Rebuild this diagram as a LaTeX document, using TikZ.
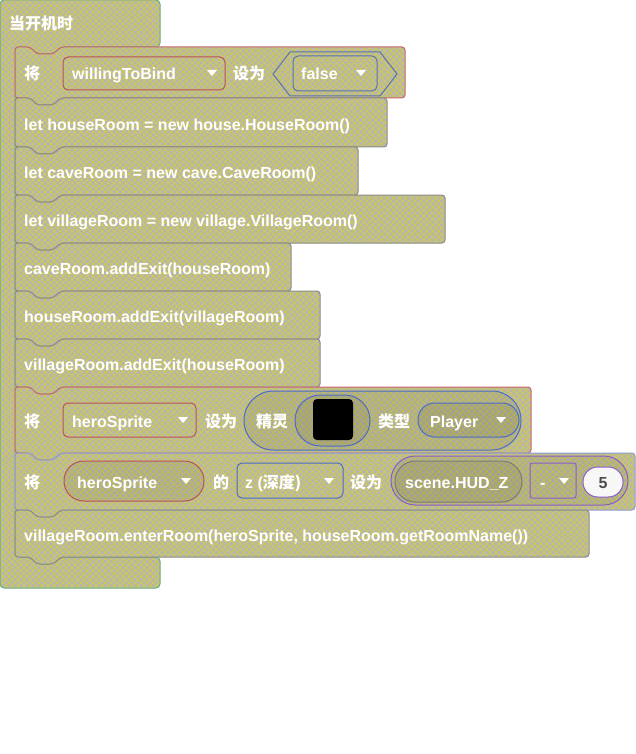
\documentclass[tikz,border=0pt]{standalone}
\usepackage{fontspec}
\setmainfont{Liberation Sans}
\newfontfamily\cjk{Noto Sans CJK SC}
\usetikzlibrary{patterns.meta}
\definecolor{bgray}{HTML}{B6B6B0}
\definecolor{hy}{HTML}{D4CE40}
\definecolor{greeno}{HTML}{6AAE78}
\definecolor{redo}{HTML}{C86470}
\definecolor{grayo}{HTML}{8A8A88}
\definecolor{blueo}{HTML}{8C9AD8}
\definecolor{redin}{HTML}{BC5058}
\definecolor{bluein}{HTML}{4A6CC4}
\definecolor{purpin}{HTML}{8A5CC8}
\definecolor{darkin}{HTML}{7A7A78}
\tikzset{
  blk/.style={fill=bgray,
    postaction={pattern={Lines[angle=45,distance=4.25pt,line width=0.7pt]},pattern color=hy},
    postaction={pattern={Lines[angle=-45,distance=4.25pt,line width=0.7pt]},pattern color=hy},
    postaction={draw=#1,line width=1pt}},
  txt/.style={text=white,font=\bfseries\fontsize{16}{16}\selectfont,inner sep=0pt,anchor=base west},
  ctxt/.style={text=white,font=\cjk\bfseries\fontsize{16}{16}\selectfont,inner sep=0pt,anchor=base west},
  inbox/.style={draw=#1,line width=1pt,rounded corners=5pt},
  pill/.style={draw=#1,line width=1pt,fill=black,fill opacity=0.06,draw opacity=1},
}
\newcommand\blkshape[4]{% x2, y1, y2, colour
  \path[blk=#4,rounded corners=3pt] (15,#2) -- (30,#2) -- (37,{#2+7}) -- (53,{#2+7}) -- (61,#2)
   -- (#1,#2) -- (#1,#3) -- (61,#3) -- (53,{#3+7}) -- (37,{#3+7}) -- (30,#3) -- (15,#3) -- cycle;}
\newcommand\tri[2]{\fill[white] ({#1-5},{#2-3}) -- ({#1+5},{#2-3}) -- (#1,{#2+3}) -- cycle;}
\newcommand\blkpill[5]{% x1,y1,x2,y2,colour
  \path[pill=#5,rounded corners={(#4-#2)/2-0.2}] (#1,#2) rectangle (#3,#4);}
\begin{document}
\begin{tikzpicture}[x=1pt,y=-1pt]
\useasboundingbox (0,0) rectangle (636,754);
% hat block
\path[blk=greeno,rounded corners=4pt] (0,0) -- (160,0) -- (160,47) -- (61,47) -- (53,54) -- (37,54) -- (30,47)
  -- (15,47) -- (15,557) -- (30,557) -- (37,564) -- (53,564) -- (61,557) -- (160,557) -- (160,588) -- (0,588) -- cycle;
\node[ctxt] (hat) at (9,30) {当开机时};
% block 1
\blkshape{405}{47}{98}{redo}
\node[ctxt] (b1a) at (24,79.5) {将};
\draw[inbox=redin] (63,57) rectangle (225,90);
\node[txt] (b1b) at (72,79.5) {willingToBind};
\tri{212}{73}
\node[ctxt] (b1c) at (233,79.5) {设为};
\draw[bluein!70!gray,line width=1pt] (273,74) -- (290,52) -- (380,52) -- (397,74) -- (380,96) -- (290,96) -- cycle;
\draw[inbox=bluein!70!gray] (293,56) rectangle (377,91);
\node[txt] (b1d) at (301,79.5) {false};
\tri{361}{73}
% blocks 2-7
\blkshape{387}{98}{147}{grayo}
\node[txt] (b2) at (24,130.5) {let houseRoom = new house.HouseRoom()};
\blkshape{358}{147}{195}{grayo}
\node[txt] (b3) at (24,178.5) {let caveRoom = new cave.CaveRoom()};
\blkshape{445}{195}{243}{grayo}
\node[txt] (b4) at (24,226.5) {let villageRoom = new village.VillageRoom()};
\blkshape{291}{243}{291}{grayo}
\node[txt] (b5) at (24,274.5) {caveRoom.addExit(houseRoom)};
\blkshape{320}{291}{339}{grayo}
\node[txt] (b6) at (24,322.5) {houseRoom.addExit(villageRoom)};
\blkshape{320}{339}{387}{grayo}
\node[txt] (b7) at (24,370.5) {villageRoom.addExit(houseRoom)};
% block 8
\blkshape{531}{387}{453}{redo}
\node[ctxt] (b8a) at (24,427) {将};
\draw[inbox=redin] (63,403) rectangle (196,437);
\node[txt] (b8b) at (72,427) {heroSprite};
\tri{183}{420}
\node[ctxt] (b8c) at (205,427) {设为};
\blkpill{244}{391}{521}{450}{bluein}
\node[ctxt] (b8d) at (256,427) {精灵};
\blkpill{295}{395}{370}{446}{bluein}
\fill[black,rounded corners=4pt] (313,399) rectangle (353,440);
\node[ctxt] (b8e) at (378,427) {类型};
\blkpill{418}{403}{519}{437}{bluein}
\node[txt] (b8f) at (430,427) {Player};
\tri{501}{420}
% block 9
\blkshape{635}{453}{510}{blueo}
\node[ctxt] (b9a) at (24,488) {将};
\blkpill{64}{461}{204}{501}{redin}
\node[txt] (b9b) at (77,488) {heroSprite};
\tri{186}{481}
\node[ctxt] (b9c) at (213,488) {的};
\draw[inbox=bluein] (237,463) rectangle (343,498);
\node[txt] (b9d) at (245,488) {z (\cjk 深度)};
\tri{329}{481}
\node[ctxt] (b9e) at (350,488) {设为};
\blkpill{391}{456}{628}{505}{purpin}
\blkpill{395}{461}{522}{502}{darkin}
\node[txt] (b9f) at (405,488) {scene.HUD\_Z};
\draw[inbox=purpin,rounded corners=2pt] (530,463) rectangle (576,498);
\node[txt] (b9g) at (540,488) {-};
\tri{564}{481}
\path[draw=purpin,line width=1pt,fill=white!94!gray,rounded corners=14.8pt] (583,467) rectangle (623,497);
\node[txt,text=black!70,anchor=base] (b9h) at (603,488) {5};
% block 10
\blkshape{589}{510}{557}{grayo}
\node[txt] (b10) at (24,541) {villageRoom.enterRoom(heroSprite, houseRoom.getRoomName())};
\end{tikzpicture}
\end{document}
